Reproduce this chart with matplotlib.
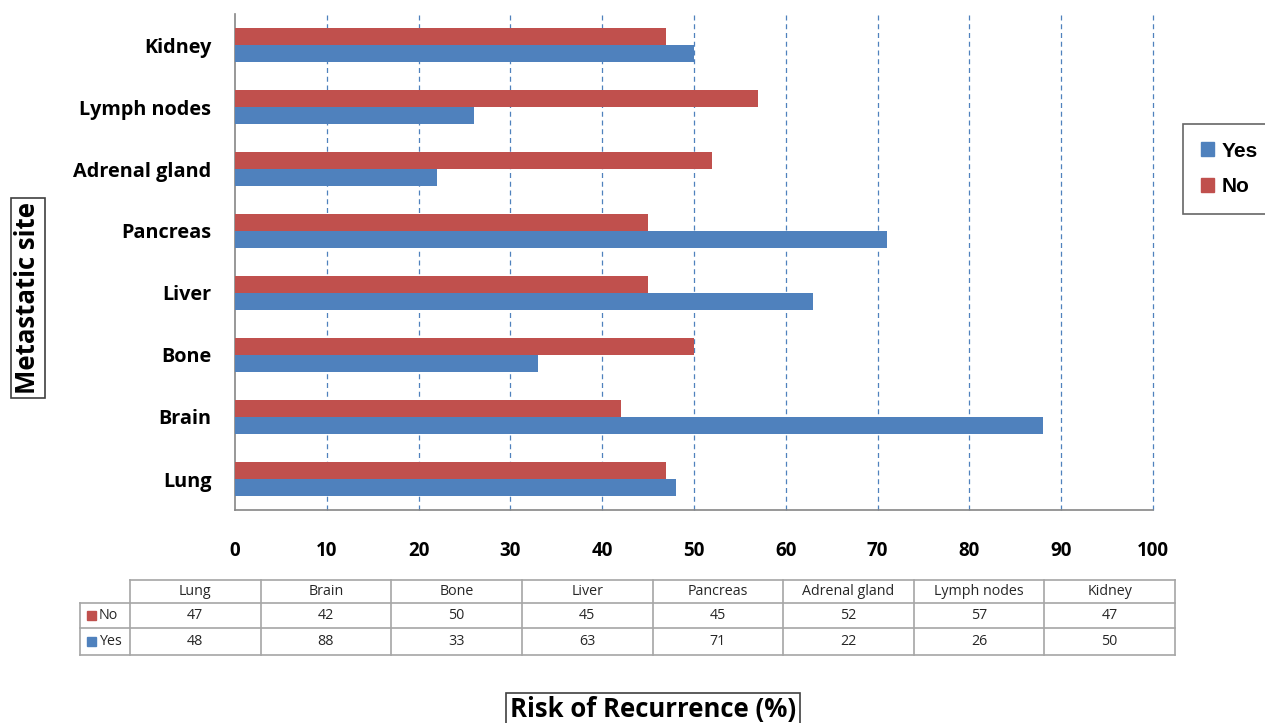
import matplotlib.pyplot as plt
from matplotlib.patches import Rectangle
from matplotlib.lines import Line2D

# --- Data ---
SITES = ["Lung", "Brain", "Bone", "Liver", "Pancreas",
         "Adrenal gland", "Lymph nodes", "Kidney"]
RISK_NO = [47, 42, 50, 45, 45, 52, 57, 47]
RISK_YES = [48, 88, 33, 63, 71, 22, 26, 50]
X_TICKS = list(range(0, 101, 10))

# --- Style ---
BLUE = "#4F81BD"
RED = "#C0504D"
GRID = "#4F81BD"
LINE_GRAY = "#A6A6A6"
W, H = 1265, 723
LABEL_FONT = "Open Sans"
LEGEND_FONT = "Liberation Sans"

fig = plt.figure(figsize=(W / 100, H / 100), dpi=100)
fig.patch.set_facecolor("white")

# Main chart axes, placed in pixel terms
left, right, top, bottom = 235, 1153, 14, 510
ax = fig.add_axes([left / W, 1 - bottom / H, (right - left) / W, (bottom - top) / H])

bar_h = 0.275
ypos = list(range(len(SITES)))
ax.barh([y - bar_h / 2 for y in ypos], RISK_YES, height=bar_h, color=BLUE,
        label="Yes", zorder=3)
ax.barh([y + bar_h / 2 for y in ypos], RISK_NO, height=bar_h, color=RED,
        label="No", zorder=3)

ax.set_xlim(0, 100)
ax.set_ylim(-0.5, len(SITES) - 0.5)
ax.set_xticks(X_TICKS)
ax.set_xticklabels([str(t) for t in X_TICKS], fontsize=13.5,
                   fontweight="bold", family=LABEL_FONT)
ax.set_yticks(ypos)
ax.set_yticklabels(SITES, fontsize=14.3, fontweight="bold", family=LABEL_FONT)
ax.tick_params(axis="x", length=0, pad=22)
ax.tick_params(axis="y", length=0, pad=17)

for t in X_TICKS[1:]:
    ax.axvline(t, color=GRID, lw=0.9, ls=(0, (4, 3)), zorder=1, clip_on=False)

for side in ("top", "right"):
    ax.spines[side].set_visible(False)
for side in ("left", "bottom"):
    ax.spines[side].set_color("#868686")
    ax.spines[side].set_linewidth(1.2)

# Legend
leg = fig.legend(handles=[Rectangle((0, 0), 1, 1, color=BLUE),
                          Rectangle((0, 0), 1, 1, color=RED)],
                 labels=["Yes", "No"], loc="upper left",
                 bbox_to_anchor=(1183 / W, 1 - 124 / H),
                 prop={"family": LEGEND_FONT, "weight": "bold", "size": 15},
                 frameon=True, fancybox=False, handlelength=0.65,
                 handleheight=0.65, handletextpad=0.35, labelspacing=0.8,
                 borderpad=0.85, borderaxespad=0)
leg.get_frame().set_edgecolor("#404040")
leg.get_frame().set_linewidth(1.2)

# Axis titles in boxes
box = dict(boxstyle="square,pad=0.15", fc="white", ec="#404040", lw=1.2)
fig.text(28 / W, 1 - 298 / H, "Metastatic site", rotation=90, ha="center",
         va="center", fontsize=18.5, fontweight="bold", family=LABEL_FONT,
         bbox=box)
fig.text(653 / W, 1 - 710 / H, "Risk of Recurrence (%)", ha="center",
         va="center", fontsize=18.5, fontweight="bold", family=LABEL_FONT,
         bbox=box)

# Data table below the chart, drawn on a pixel-space overlay
tab = fig.add_axes([0, 0, 1, 1])
tab.set_xlim(0, W)
tab.set_ylim(H, 0)
tab.axis("off")

t_left, t_lab, t_right = 80, 130, 1175
row_y = [580, 603, 628, 655]
col_w = (t_right - t_lab) / len(SITES)
col_x = [t_lab + i * col_w for i in range(len(SITES) + 1)]

def hline(y, x0, x1):
    tab.add_line(Line2D([x0, x1], [y, y], color=LINE_GRAY, lw=1.2))

def vline(x, y0, y1):
    tab.add_line(Line2D([x, x], [y0, y1], color=LINE_GRAY, lw=1.2))

hline(row_y[0], t_lab, t_right)
for y in row_y[1:]:
    hline(y, t_left, t_right)
vline(t_left, row_y[1], row_y[3])
for x in col_x:
    vline(x, row_y[0], row_y[3])

tfont = dict(fontsize=10.3, family=LABEL_FONT, color="#262626",
             ha="center", va="center")
for i, site in enumerate(SITES):
    cx = col_x[i] + col_w / 2
    tab.text(cx, (row_y[0] + row_y[1]) / 2, site, **tfont)
    tab.text(cx, (row_y[1] + row_y[2]) / 2, str(RISK_NO[i]), **tfont)
    tab.text(cx, (row_y[2] + row_y[3]) / 2, str(RISK_YES[i]), **tfont)

for (r0, r1), name, color in [((row_y[1], row_y[2]), "No", RED),
                              ((row_y[2], row_y[3]), "Yes", BLUE)]:
    cy = (r0 + r1) / 2
    tab.add_patch(Rectangle((87, cy - 5), 9, 9, color=color))
    tab.text(99, cy, name, fontsize=10.3, family=LABEL_FONT, color="#262626",
             ha="left", va="center")

fig.savefig("out.png", dpi=100)
